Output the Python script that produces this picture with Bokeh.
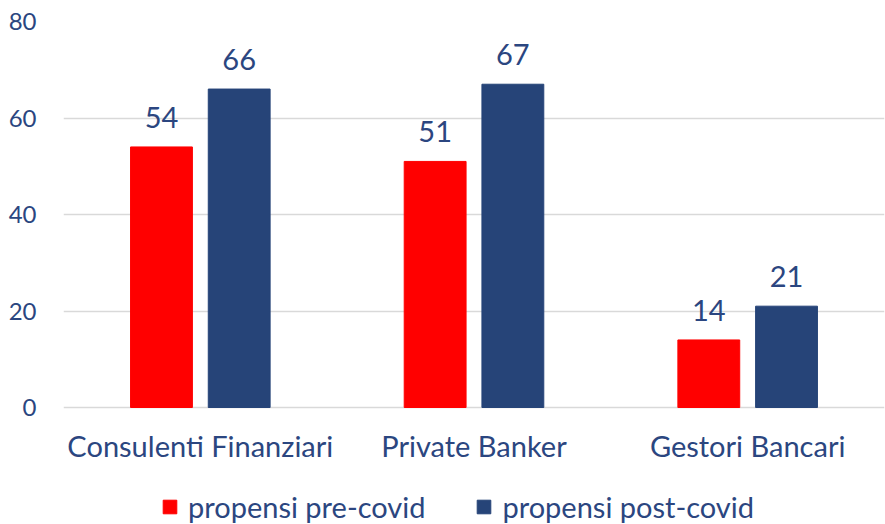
from bokeh.plotting import figure
from bokeh.models import ColumnDataSource, FactorRange, Range1d, Legend, LegendItem, LabelSet
from bokeh.transform import dodge
from bokeh.core.properties import value
from bokeh.embed import file_html
from bokeh.resources import INLINE

categories = ["Consulenti Finanziari", "Private Banker", "Gestori Bancari"]
pre_covid = [54, 51, 14]
post_covid = [66, 67, 21]
series_names = ["propensi pre-covid", "propensi post-covid"]
y_ticks = [0, 20, 40, 60, 80]

RED = "#FF0000"
BLUE = "#264478"
TEXT = "#2B4680"
FONT = "Lato"

# frame extends to the bottom of the figure; value 0 sits 117 px above it
Y_TOP = 80
Y_BOTTOM = -117 * 80 / 386

src = ColumnDataSource(dict(cat=categories, pre=pre_covid, post=post_covid,
                            zero=[0] * len(categories),
                            pre_lbl=[str(v) for v in pre_covid],
                            post_lbl=[str(v) for v in post_covid]))

p = figure(x_range=FactorRange(*categories), y_range=Range1d(Y_BOTTOM, Y_TOP),
           width=885, height=524, output_backend="svg", toolbar_location=None,
           min_border_left=63, min_border_right=1, min_border_top=21, min_border_bottom=0)
p.outline_line_color = None
p.background_fill_color = "white"
p.border_fill_color = "white"

off = 0.142
w = 0.226
r1 = p.vbar(x=dodge("cat", -off, range=p.x_range), top="pre", width=w, source=src,
            fill_color=RED, line_color=RED)
r2 = p.vbar(x=dodge("cat", off, range=p.x_range), top="post", width=w, source=src,
            fill_color=BLUE, line_color=BLUE)

for col, o in (("pre", -off), ("post", off)):
    lbl = LabelSet(x=dodge("cat", o, range=p.x_range), y=col, text=col + "_lbl", source=src,
                   text_align="center", text_baseline="bottom", y_offset=19,
                   text_font=value(FONT), text_font_size="29px", text_color=TEXT)
    p.add_layout(lbl)

# category labels under the baseline
cat_lbl = LabelSet(x="cat", y="zero", text="cat", source=src,
                   text_align="center", text_baseline="top", y_offset=-20,
                   text_font=value(FONT), text_font_size="29px", text_color=TEXT)
p.add_layout(cat_lbl)

p.xaxis.visible = False
p.xgrid.grid_line_color = None
p.ygrid.grid_line_color = "#D9D9D9"
p.ygrid.grid_line_width = 1.5
p.yaxis.ticker = y_ticks
p.ygrid.ticker = y_ticks
p.yaxis.axis_line_color = None
p.yaxis.major_tick_line_color = None
p.yaxis.minor_tick_line_color = None
p.yaxis.major_label_standoff = 21
p.yaxis.major_label_text_font = FONT
p.yaxis.major_label_text_font_size = "24px"
p.yaxis.major_label_text_color = TEXT

legend = Legend(items=[LegendItem(label=series_names[0], renderers=[r1]),
                       LegendItem(label=series_names[1], renderers=[r2])],
                location=(98, 0), orientation="horizontal",
                label_text_font=FONT, label_text_font_size="29px", label_text_color=TEXT,
                glyph_width=17, glyph_height=17, label_standoff=10, spacing=50,
                padding=0, margin=0, border_line_color=None, background_fill_alpha=0)
p.add_layout(legend, "center")

open("out.html", "w").write(file_html(p, INLINE))
